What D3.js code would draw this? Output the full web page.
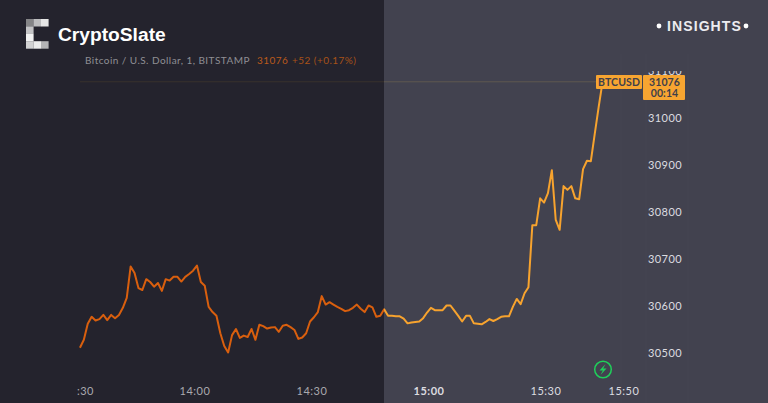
<!DOCTYPE html>
<html><head><meta charset="utf-8">
<script src="https://cdnjs.cloudflare.com/ajax/libs/d3/7.8.5/d3.min.js"></script>
<style>html,body{margin:0;padding:0;background:#42424f}svg{display:block}</style>
</head><body><svg id="c" width="768" height="403"></svg>
<script>
// One-minute closes from 13:30
const closes = [30510,30527,30561,30576,30568,30571,30580,30569,30580,30573,30580,30595,30616,30683,30669,30637,30633,30656,30650,30640,30648,30631,30656,30653,30661,30661,30651,30661,30667,30674,30685,30650,30642,30597,30586,30578,30541,30514,30500,30537,30550,30531,30536,30533,30550,30527,30559,30556,30551,30553,30554,30544,30557,30559,30554,30548,30529,30532,30541,30566,30575,30586,30620,30602,30607,30602,30597,30593,30588,30590,30595,30602,30593,30586,30600,30596,30576,30578,30592,30578,30578,30577,30577,30572,30562,30564,30565,30566,30573,30585,30595,30590,30590,30590,30600,30600,30589,30578,30566,30578,30578,30562,30561,30560,30565,30571,30567,30571,30576,30577,30577,30597,30614,30603,30626,30639,30771,30771,30828,30819,30839,30888,30782,30761,30854,30846,30854,30828,30826,30890,30908,30907,30965,31022,31076];
const priceTicks = [30500,30600,30700,30800,30900,31000,31100];
const timeTicks = [{m:0,t:":30"},{m:30,t:"14:00"},{m:60,t:"14:30"},{m:90,t:"15:00"},{m:120,t:"15:30"},{m:140,t:"15:50"}];
const lastPrice = 31076, symbol = "BTCUSD", countdown = "00:14";
const titleParts = ["Bitcoin / U.S. Dollar, 1, BITSTAMP","31076","+52 (+0.17%)"];
const logoCells = [[0,0,"#858587"],[1,0,"#bdbdbf"],[2,0,"#e6e6e6"],[0,1,"#c4c4c6"],[0,2,"#f2f2f2"],[0,3,"#d2d2d3"],[1,3,"#ececec"],[2,3,"#b4b4b6"]];

const W=768,H=403,split=384;
const svg=d3.select("#c");
const x=d3.scaleLinear().domain([0,140]).range([78,624]);
const y=d3.scaleLinear().domain([30500,31000]).range([352.5,117.5]);
const F="Lato, 'Open Sans', sans-serif";
const S="'Liberation Sans', Arial, sans-serif";
const defs=svg.append("defs");
defs.append("clipPath").attr("id","cl").append("rect").attr("width",split).attr("height",H);
defs.append("clipPath").attr("id","cr").append("rect").attr("x",split).attr("width",W-split).attr("height",H);
defs.append("clipPath").attr("id","ca").append("rect").attr("x",646).attr("y",71).attr("width",60).attr("height",300);

svg.append("rect").attr("width",W).attr("height",H).attr("fill","#42424f");
svg.append("rect").attr("width",split).attr("height",H).attr("fill","#24232d");

[621,646,688].forEach(v=>svg.append("line").attr("x1",v).attr("x2",v).attr("y1",54).attr("y2",403).attr("stroke","#fff").attr("stroke-opacity",0.02));
svg.append("line").attr("x1",80).attr("x2",384).attr("y1",y(lastPrice)).attr("y2",y(lastPrice)).attr("stroke","#6a5a30").attr("stroke-opacity",.28);
svg.append("line").attr("x1",384).attr("x2",596).attr("y1",y(lastPrice)).attr("y2",y(lastPrice)).attr("stroke","#8a7a50").attr("stroke-opacity",.4);

const line=d3.line().x((d,i)=>x(i+.5)).y(d=>y(d));
[["cl","#d95f0e"],["cr","#f7a32e"]].forEach(([c,col])=>
  svg.append("path").datum(closes).attr("d",line).attr("clip-path",`url(#${c})`)
   .attr("fill","none").attr("stroke",col).attr("stroke-width",2).attr("stroke-linejoin","round"));

svg.append("g").attr("clip-path","url(#ca)").selectAll("text").data(priceTicks).join("text")
  .attr("x",665).attr("y",d=>y(d)+4).attr("text-anchor","middle").attr("font-family",F).attr("font-size",11)
  .attr("letter-spacing",.4).attr("fill","#dcdce0").text(d=>d);
svg.append("g").selectAll("text").data(timeTicks).join("text")
  .attr("x",d=>d.m===0?x(0)+7.5:x(d.m)).attr("y",395).attr("text-anchor","middle").attr("font-family",F).attr("font-size",11)
  .attr("letter-spacing",.5).attr("fill",d=>d.m<=60?"#a9a9ae":"#dcdce0")
  .attr("font-weight",d=>d.m===90?700:400).text(d=>d.t);

svg.append("rect").attr("x",596).attr("y",75).attr("width",46).attr("height",14).attr("rx",1).attr("fill","#f7a531");
svg.append("rect").attr("x",643).attr("y",75).attr("width",42).attr("height",25).attr("rx",1).attr("fill","#f7a531");
const lab=(tx,ty,t)=>svg.append("text").attr("x",tx).attr("y",ty).attr("text-anchor","middle").attr("font-family",F)
  .attr("font-size",10.5).attr("font-weight",700).attr("letter-spacing",.1).attr("fill","#3f3f4b").text(t);
lab(619,85.8,symbol); lab(664.5,85.5,lastPrice); lab(664.5,97,countdown);

const tt=svg.append("text").attr("x",85).attr("y",64).attr("font-family",F).attr("font-size",10).attr("letter-spacing",.45);
tt.append("tspan").attr("fill","#8f8f94").text(titleParts[0]);
tt.append("tspan").attr("x",257).attr("fill","#bb5a1b").text(titleParts[1]);
tt.append("tspan").attr("x",292).attr("fill","#a85218").text(titleParts[2]);

svg.append("g").selectAll("rect").data(logoCells).join("rect")
  .attr("x",d=>26+d[0]*7.5).attr("y",d=>19+d[1]*7.4).attr("width",7.6).attr("height",7.5).attr("fill",d=>d[2]);
svg.append("text").attr("x",58).attr("y",41).attr("font-family",S).attr("font-weight",700).attr("font-size",19.2).attr("fill","#fff").text("CryptoSlate");

svg.append("text").attr("x",667).attr("y",31).attr("font-family",S).attr("font-size",14).attr("letter-spacing",1.1).attr("fill","#ececf0").attr("font-weight",700).text("INSIGHTS");
[659,746].forEach(v=>svg.append("circle").attr("cx",v).attr("cy",26).attr("r",2.4).attr("fill","#fff"));

svg.append("circle").attr("cx",603).attr("cy",369.5).attr("r",8.3).attr("fill","none").attr("stroke","#1fcf5a").attr("stroke-width",1.5);
svg.append("path").attr("d",d3.line()([[605.5,364],[599.5,370.5],[602.8,370.5],[600.5,375],[606.5,368.5],[603.2,368.5]])+"Z").attr("fill","#1fcf5a");
</script></body></html>
